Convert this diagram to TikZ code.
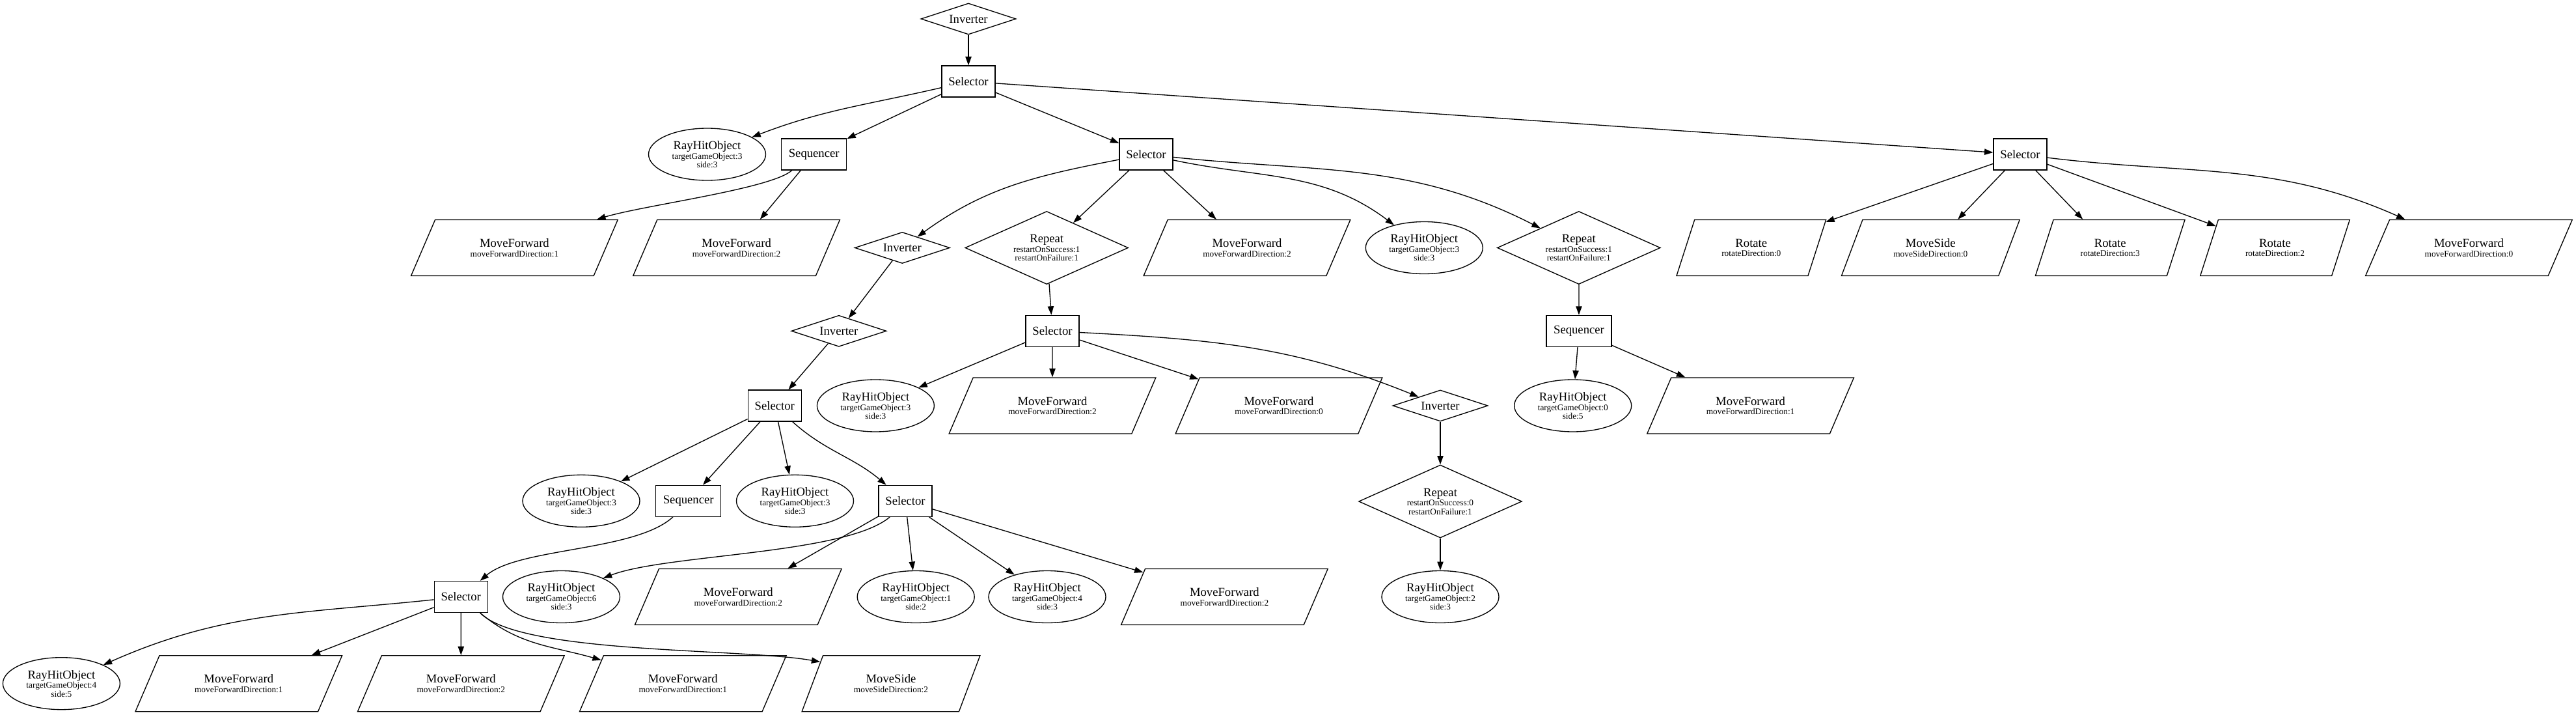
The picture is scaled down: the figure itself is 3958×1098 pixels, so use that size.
\documentclass[tikz,border=0pt]{standalone}
\usepackage{fontspec}
\setmainfont{Liberation Serif}
\usetikzlibrary{shapes.geometric,arrows.meta}
\newcommand\mainlbl[1]{{\fontsize{14}{14}\selectfont #1}}
\tikzset{
 base/.style={draw, line width=1pt, inner sep=0pt, align=center, font=\fontsize{10}{10}\selectfont},
 boxnode/.style={base, rectangle, minimum height=36pt, minimum width=61.5pt},
 seqnode/.style={boxnode, minimum width=75pt},
 invnode/.style={base, diamond, minimum width=109.5pt, minimum height=36pt, aspect=2.3},
 repnode/.style={base, diamond, minimum width=188pt, minimum height=84pt, aspect=2.24},
 raynode/.style={base, ellipse, minimum width=135pt, minimum height=60pt},
 para/.style={base, trapezium, trapezium stretches=true, minimum height=64.5pt},
 mfnode/.style={para, minimum width=238.5pt, trapezium left angle=53.5, trapezium right angle=126.5},
 msnode/.style={para, minimum width=205.5pt, trapezium left angle=57.5, trapezium right angle=122.5},
 rotnode/.style={para, minimum width=172.5pt, trapezium left angle=61.9, trapezium right angle=118.1},
 edge/.style={line width=1pt, -{Triangle[length=10pt,width=7pt]}},
}
\begin{document}
\begin{tikzpicture}[x=0.75pt,y=-0.75pt]
\useasboundingbox (0,0) rectangle (3958,1098);
% rank 0-2
\node[invnode] (inv0) at (1488,29) {\mainlbl{Inverter}};
\node[boxnode] (sel1) at (1488,125) {\mainlbl{Selector}};
\node[raynode] (ray2) at (1086.5,237) {\mainlbl{RayHitObject}\\[1pt]targetGameObject:3\\side:3};
\node[seqnode] (seq2) at (1250.7,237) {\mainlbl{Sequencer}};
\node[boxnode] (sel2) at (1761,237) {\mainlbl{Selector}};
\node[boxnode] (sel2r) at (3104,237) {\mainlbl{Selector}};
% rank 3
\node[mfnode] (mf3a) at (790.4,380.5) {\mainlbl{MoveForward}\\[1pt]moveForwardDirection:1};
\node[mfnode] (mf3b) at (1131.6,380.5) {\mainlbl{MoveForward}\\[1pt]moveForwardDirection:2};
\node[invnode] (inv3) at (1386.3,380.5) {\mainlbl{Inverter}};
\node[repnode] (rep3) at (1608.2,380.5) {\mainlbl{Repeat}\\[1pt]restartOnSuccess:1\\restartOnFailure:1};
\node[mfnode] (mf3c) at (1916,380.5) {\mainlbl{MoveForward}\\[1pt]moveForwardDirection:2};
\node[raynode] (ray3) at (2188.3,380.5) {\mainlbl{RayHitObject}\\[1pt]targetGameObject:3\\side:3};
\node[repnode] (rep3b) at (2425.8,380.5) {\mainlbl{Repeat}\\[1pt]restartOnSuccess:1\\restartOnFailure:1};
\node[rotnode] (rot3a) at (2690.8,380.5) {\mainlbl{Rotate}\\[1pt]rotateDirection:0};
\node[msnode] (ms3) at (2966.3,380.5) {\mainlbl{MoveSide}\\[1pt]moveSideDirection:0};
\node[rotnode] (rot3b) at (3242.2,380.5) {\mainlbl{Rotate}\\[1pt]rotateDirection:3};
\node[rotnode] (rot3c) at (3495.5,380.5) {\mainlbl{Rotate}\\[1pt]rotateDirection:2};
\node[mfnode] (mf3d) at (3793.4,380.5) {\mainlbl{MoveForward}\\[1pt]moveForwardDirection:0};
% rank 4
\node[invnode] (inv4) at (1288.9,508.3) {\mainlbl{Inverter}};
\node[boxnode] (sel4) at (1617,508.3) {\mainlbl{Selector}};
\node[seqnode] (seq4) at (2426,508.3) {\mainlbl{Sequencer}};
% rank 5
\node[boxnode] (sel5) at (1190.3,623) {\mainlbl{Selector}};
\node[raynode] (ray5a) at (1345.4,623) {\mainlbl{RayHitObject}\\[1pt]targetGameObject:3\\side:3};
\node[mfnode] (mf5a) at (1617,623) {\mainlbl{MoveForward}\\[1pt]moveForwardDirection:2};
\node[mfnode] (mf5b) at (1965,623) {\mainlbl{MoveForward}\\[1pt]moveForwardDirection:0};
\node[invnode] (inv5) at (2213,623) {\mainlbl{Inverter}};
\node[raynode] (ray5b) at (2416.7,623) {\mainlbl{RayHitObject}\\[1pt]targetGameObject:0\\side:5};
\node[mfnode] (mf5c) at (2689.6,623) {\mainlbl{MoveForward}\\[1pt]moveForwardDirection:1};
% rank 6
\node[raynode] (ray6a) at (893,769.3) {\mainlbl{RayHitObject}\\[1pt]targetGameObject:3\\side:3};
\node[seqnode] (seq6) at (1057.7,769.3) {\mainlbl{Sequencer}};
\node[raynode] (ray6b) at (1221.5,769.3) {\mainlbl{RayHitObject}\\[1pt]targetGameObject:3\\side:3};
\node[boxnode] (sel6) at (1391,769.3) {\mainlbl{Selector}};
\node[repnode] (rep6) at (2213,770) {\mainlbl{Repeat}\\[1pt]restartOnSuccess:0\\restartOnFailure:1};
% rank 7
\node[boxnode] (sel7) at (708.3,916.5) {\mainlbl{Selector}};
\node[raynode] (ray7a) at (862.5,916.5) {\mainlbl{RayHitObject}\\[1pt]targetGameObject:6\\side:3};
\node[mfnode] (mf7a) at (1134.3,916.5) {\mainlbl{MoveForward}\\[1pt]moveForwardDirection:2};
\node[raynode] (ray7b) at (1407.2,916.5) {\mainlbl{RayHitObject}\\[1pt]targetGameObject:1\\side:2};
\node[raynode] (ray7c) at (1609,916.5) {\mainlbl{RayHitObject}\\[1pt]targetGameObject:4\\side:3};
\node[mfnode] (mf7b) at (1881.4,916.5) {\mainlbl{MoveForward}\\[1pt]moveForwardDirection:2};
\node[raynode] (ray7d) at (2213,916.5) {\mainlbl{RayHitObject}\\[1pt]targetGameObject:2\\side:3};
% rank 8
\node[raynode] (ray8a) at (94.4,1049.7) {\mainlbl{RayHitObject}\\[1pt]targetGameObject:4\\side:5};
\node[mfnode] (mf8a) at (366.8,1049.7) {\mainlbl{MoveForward}\\[1pt]moveForwardDirection:1};
\node[mfnode] (mf8b) at (708.3,1049.7) {\mainlbl{MoveForward}\\[1pt]moveForwardDirection:2};
\node[mfnode] (mf8c) at (1049.3,1049.7) {\mainlbl{MoveForward}\\[1pt]moveForwardDirection:1};
\node[msnode] (ms8) at (1369,1049.7) {\mainlbl{MoveSide}\\[1pt]moveSideDirection:2};
% edges
\draw[edge] (inv0) -- (sel1);
\draw[edge] (sel1) to[out=193,in=21] (ray2);
\draw[edge] (sel1) -- (seq2);
\draw[edge] (sel1) -- (sel2);
\draw[edge] (sel1) -- (sel2r);
\draw[edge] (seq2.216) .. controls (1185,290) and (990,315) .. (mf3a.19);
\draw[edge] (seq2) -- (mf3b);
\draw[edge] (sel2) to[out=191,in=36] (inv3);
\draw[edge] (sel2) -- (rep3);
\draw[edge] (sel2) -- (mf3c);
\draw[edge] (sel2) to[out=348,in=143] (ray3);
\draw[edge] (sel2) to[out=354,in=153] (rep3b);
\draw[edge] (sel2r) -- (rot3a);
\draw[edge] (sel2r) -- (ms3);
\draw[edge] (sel2r) -- (rot3b);
\draw[edge] (sel2r) -- (rot3c);
\draw[edge] (sel2r) to[out=353,in=156] (mf3d);
\draw[edge] (inv3) -- (inv4);
\draw[edge] (rep3) -- (sel4);
\draw[edge] (rep3b) -- (seq4);
\draw[edge] (inv4) -- (sel5);
\draw[edge] (sel4) -- (ray5a);
\draw[edge] (sel4) -- (mf5a);
\draw[edge] (sel4) -- (mf5b);
\draw[edge] (sel4) to[out=357,in=158] (inv5);
\draw[edge] (seq4) -- (ray5b);
\draw[edge] (seq4) -- (mf5c);
\draw[edge] (sel5) -- (ray6a);
\draw[edge] (sel5) -- (seq6);
\draw[edge] (sel5) -- (ray6b);
\draw[edge] (sel5) to[out=318,in=140] (sel6);
\draw[edge] (inv5) -- (rep6);
\draw[edge] (seq6.226) .. controls (976,847) and (797.5,840.7) .. (sel7.40);
\draw[edge] (sel6.226) .. controls (1299,851.6) and (1022,851) .. (ray7a.24);
\draw[edge] (sel6) -- (mf7a);
\draw[edge] (sel6) -- (ray7b);
\draw[edge] (sel6) -- (ray7c);
\draw[edge] (sel6) -- (mf7b);
\draw[edge] (rep6) -- (ray7d);
\draw[edge] (sel7) to[out=186,in=24] (ray8a);
\draw[edge] (sel7) -- (mf8a);
\draw[edge] (sel7) -- (mf8b);
\draw[edge] (sel7) to[out=320,in=164] (mf8c);
\draw[edge] (sel7.320) .. controls (800,1005) and (1140,995) .. (ms8.163);
\end{tikzpicture}
\end{document}
